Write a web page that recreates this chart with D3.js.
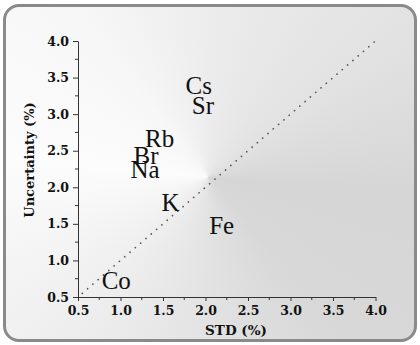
<!DOCTYPE html>
<html>
<head>
<meta charset="utf-8">
<script src="https://cdn.jsdelivr.net/npm/d3@7"></script>
<style>
  body { margin: 0; background: #fff; }
  #wrap { position: relative; width: 420px; height: 345px; }
  #bg {
    position: absolute; left: 3px; top: 4px; width: 408px; height: 332px;
    border: 3px solid #8a8a8a; border-radius: 16px;
    background: conic-gradient(from 0deg at 202px 170px,
      #ececec 0deg, #e3e3e3 50deg, #d6d6d6 95deg, #d8d8d8 140deg,
      #e4e4e4 185deg, #f0f0f0 230deg, #fcfcfc 275deg, #f7f7f7 320deg, #ececec 360deg);
  }
  svg { position: absolute; left: 0; top: 0; }
</style>
</head>
<body>
<div id="wrap">
  <div id="bg"></div>
  <svg width="420" height="345"></svg>
</div>
<script>
// element labels placed at (STD, Uncertainty)
const elements = ["Co", "K", "Fe", "Na", "Br", "Rb", "Cs", "Sr"];
const stdVals = [0.95, 1.59, 2.19, 1.29, 1.30, 1.46, 1.92, 1.97];
const uncVals = [0.72, 1.79, 1.48, 2.24, 2.43, 2.67, 3.39, 3.11];

// y = x reference line
const diagonal = [0.55, 4.0];

const xTicks = [0.5, 1.0, 1.5, 2.0, 2.5, 3.0, 3.5, 4.0];
const yTicks = [0.5, 1.0, 1.5, 2.0, 2.5, 3.0, 3.5, 4.0];
const minorTicks = [0.75, 1.25, 1.75, 2.25, 2.75, 3.25, 3.75];

const svg = d3.select("svg");

const x = d3.scaleLinear().domain([0.5, 4.0]).range([78, 375.5]);
const y = d3.scaleLinear().domain([0.5, 4.0]).range([297, 41]);

const tickFont = "'DejaVu Serif', serif";

// reference line
svg.append("line")
    .attr("x1", x(diagonal[0])).attr("y1", y(diagonal[0]))
    .attr("x2", x(diagonal[1])).attr("y2", y(diagonal[1]))
    .attr("stroke", "#555")
    .attr("stroke-width", 1.7)
    .attr("stroke-linecap", "round")
    .attr("stroke-dasharray", "0.1,6.9");

// axes
const xAxis = svg.append("g")
    .attr("transform", `translate(0,${y(0.5)})`)
    .call(d3.axisBottom(x).tickValues(xTicks).tickFormat(d3.format(".1f"))
        .tickSize(4).tickSizeOuter(0).tickPadding(5));

xAxis.selectAll(".minor")
    .data(minorTicks)
    .join("line")
    .attr("class", "minor")
    .attr("x1", d => x(d)).attr("x2", d => x(d))
    .attr("y1", 0).attr("y2", 3)
    .attr("stroke", "#333");

const yAxis = svg.append("g")
    .attr("transform", `translate(${x(0.5)},0)`)
    .call(d3.axisLeft(y).tickValues(yTicks).tickFormat(d3.format(".1f"))
        .tickSize(5).tickSizeOuter(0).tickPadding(4));

yAxis.selectAll(".minor")
    .data(minorTicks)
    .join("line")
    .attr("class", "minor")
    .attr("x1", -3).attr("x2", 0)
    .attr("y1", d => y(d)).attr("y2", d => y(d))
    .attr("stroke", "#333");

svg.selectAll(".domain, .tick line").attr("stroke", "#333");
svg.selectAll(".tick text")
    .style("font-family", tickFont)
    .style("font-weight", "bold")
    .style("font-size", "12.5px")
    .attr("fill", "#111");

// axis titles
svg.append("text")
    .attr("x", 236)
    .attr("y", 335)
    .attr("text-anchor", "middle")
    .style("font-family", tickFont)
    .style("font-weight", "bold")
    .style("font-size", "13.5px")
    .attr("fill", "#111")
    .text("STD (%)");

svg.append("text")
    .attr("transform", "translate(34,160) rotate(-90)")
    .attr("text-anchor", "middle")
    .style("font-family", tickFont)
    .style("font-weight", "bold")
    .style("font-size", "13px")
    .attr("fill", "#111")
    .text("Uncertainty (%)");

// element labels
svg.selectAll(".el")
    .data(elements)
    .join("text")
    .attr("class", "el")
    .attr("x", (d, i) => x(stdVals[i]))
    .attr("y", (d, i) => y(uncVals[i]))
    .attr("dy", "0.33em")
    .attr("text-anchor", "middle")
    .style("font-family", "'Liberation Serif', serif")
    .style("font-size", "25px")
    .attr("fill", "#111")
    .text(d => d);
</script>
</body>
</html>
